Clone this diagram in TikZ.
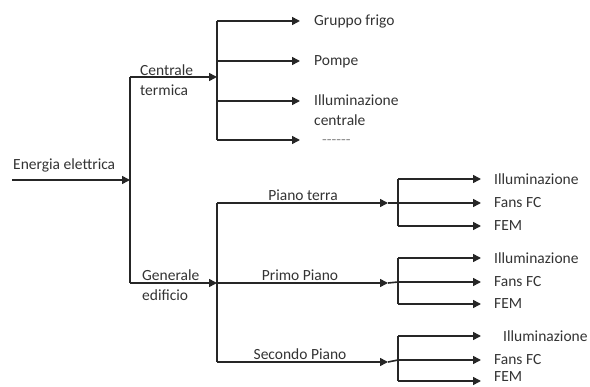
\documentclass[tikz,border=0pt]{standalone}
\usepackage{fontspec}
\setmainfont{Carlito}
\usetikzlibrary{arrows.meta}
\begin{document}
\begin{tikzpicture}[x=1pt,y=-1pt,
  ln/.style={line width=1.6pt,draw=black!85},
  arr/.style={ln,-{Triangle[length=8pt,width=8pt]}},
  lbl/.style={font=\fontsize{15.5}{18}\selectfont,text=black!80,inner sep=0pt},
  lblw/.style={lbl,anchor=west}]
\useasboundingbox (0,0) rectangle (590,387);
% main trunk
\coordinate (in) at (12,180);
\coordinate (j0) at (130,180);
\coordinate (ct) at (130,77);
\coordinate (ge) at (130,283);
\coordinate (j1) at (217,77);
\coordinate (j2) at (217,283);
\draw[arr] (in) -- (j0);
\draw[ln] (ct) -- (ge);
\draw[arr] (ct) -- (j1);
\draw[arr] (ge) -- (j2);
\node[lblw] (tEn) at (13,165) {Energia elettrica};
\node[lblw] (tCe) at (140,70) {Centrale};
\node[lblw] (tTe) at (140,90) {termica};
\node[lblw] (tGe) at (142,275) {Generale};
\node[lblw] (tEd) at (142,295) {edificio};
% top group
\coordinate (a1) at (217,21);
\coordinate (a2) at (217,61);
\coordinate (a3) at (217,101);
\coordinate (a4) at (217,140);
\coordinate (b1) at (300,21);
\coordinate (b2) at (300,61);
\coordinate (b3) at (300,101);
\coordinate (b4) at (300,140);
\draw[ln] (a1) -- (a4);
\foreach \i in {1,2,3,4} \draw[arr] (a\i) -- (b\i);
\node[lblw] (tGr) at (314,22) {Gruppo frigo};
\node[lblw] (tPo) at (314,62) {Pompe};
\node[lblw] (tIl) at (314,100) {Illuminazione};
\node[lblw] (tCn) at (314,120) {centrale};
\node[lblw,text=black!45] (tDo) at (322,142) {-{}-{}-{}-{}-{}-};
% bottom group
\coordinate (c1) at (217,203);
\coordinate (c2) at (217,283);
\coordinate (c3) at (217,362);
\coordinate (d1) at (388,203);
\coordinate (d2) at (388,283);
\coordinate (d3) at (388,362);
\draw[ln] (c1) -- (c3);
\foreach \i in {1,2,3} \draw[arr] (c\i) -- (d\i);
\node[lbl] (tPt) at (303,195) {Piano terra};
\node[lbl] (tPp) at (300,275) {Primo Piano};
\node[lbl] (tSp) at (300,354) {Secondo Piano};
% sub groups
\foreach \g/\ya/\yb/\yc/\dx/\ty in {1/179/203/226/0/226, 2/258/282/304/0/304, 3/336/360/381/9/377} {
  \coordinate (v\g a) at (398,\ya);
  \coordinate (v\g b) at (398,\yb);
  \coordinate (v\g c) at (398,\yc);
  \coordinate (w\g a) at (481,\ya);
  \coordinate (w\g b) at (481,\yb);
  \coordinate (w\g c) at (481,\yc);
  \draw[ln] (v\g a) -- (v\g c);
  \draw[arr] (v\g a) -- (w\g a);
  \draw[arr] (v\g b) -- (w\g b);
  \draw[arr] (v\g c) -- (w\g c);
  \node[lblw] (il\g) at (494+\dx,\ya) {Illuminazione};
  \node[lblw] (fa\g) at (494,\yb) {Fans FC};
  \node[lblw] (fe\g) at (494,\ty) {FEM};
}
\draw[ln] (d1) -- (v1b);
\draw[ln] (d2) -- (v2b);
\draw[ln] (d3) -- (v3b);
\end{tikzpicture}
\end{document}
